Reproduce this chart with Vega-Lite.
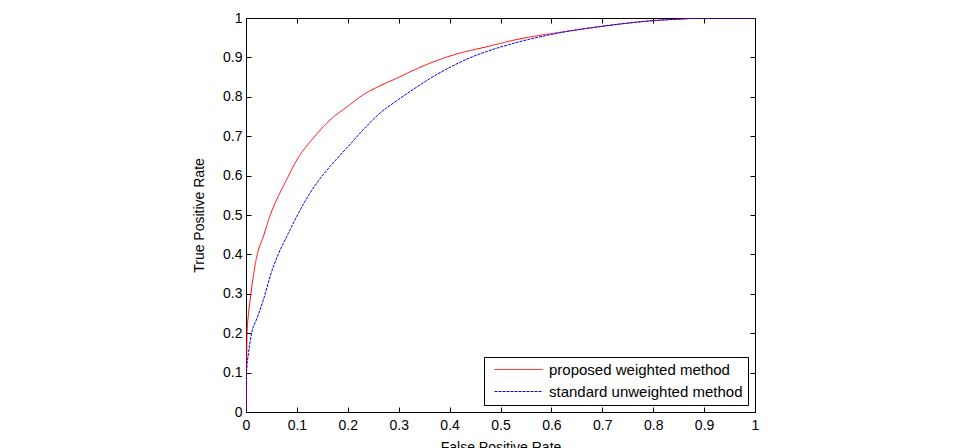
{
  "$schema": "https://vega.github.io/schema/vega-lite/v6.json",
  "width": 509,
  "height": 394,
  "autosize": {"type": "none"},
  "padding": {"left": 246, "top": 18, "right": 204, "bottom": 36},
  "background": "white",
  "config": {
    "font": "Liberation Sans",
    "view": {"stroke": "black", "strokeWidth": 1},
    "axis": {
      "grid": false,
      "domainColor": "black",
      "tickColor": "black",
      "labelColor": "black",
      "titleColor": "black",
      "labelFont": "Liberation Sans",
      "titleFont": "Liberation Sans",
      "labelFontSize": 14,
      "titleFontSize": 14,
      "titleFontWeight": "normal",
      "tickSize": -5,
      "tickWidth": 1,
      "domainWidth": 1
    }
  },
  "datasets": {
    "roc": [
      {"fpr": 0, "tpr": 0, "method": "proposed weighted method"},
      {"fpr": 0.001, "tpr": 0.1, "method": "proposed weighted method"},
      {"fpr": 0.002, "tpr": 0.2, "method": "proposed weighted method"},
      {"fpr": 0.005, "tpr": 0.25, "method": "proposed weighted method"},
      {"fpr": 0.008, "tpr": 0.284, "method": "proposed weighted method"},
      {"fpr": 0.015, "tpr": 0.35, "method": "proposed weighted method"},
      {"fpr": 0.021, "tpr": 0.394, "method": "proposed weighted method"},
      {"fpr": 0.034, "tpr": 0.445, "method": "proposed weighted method"},
      {"fpr": 0.05, "tpr": 0.508, "method": "proposed weighted method"},
      {"fpr": 0.06, "tpr": 0.538, "method": "proposed weighted method"},
      {"fpr": 0.08, "tpr": 0.59, "method": "proposed weighted method"},
      {"fpr": 0.1, "tpr": 0.64, "method": "proposed weighted method"},
      {"fpr": 0.13, "tpr": 0.692, "method": "proposed weighted method"},
      {"fpr": 0.165, "tpr": 0.741, "method": "proposed weighted method"},
      {"fpr": 0.2, "tpr": 0.776, "method": "proposed weighted method"},
      {"fpr": 0.23, "tpr": 0.805, "method": "proposed weighted method"},
      {"fpr": 0.26, "tpr": 0.826, "method": "proposed weighted method"},
      {"fpr": 0.296, "tpr": 0.847, "method": "proposed weighted method"},
      {"fpr": 0.33, "tpr": 0.868, "method": "proposed weighted method"},
      {"fpr": 0.361, "tpr": 0.885, "method": "proposed weighted method"},
      {"fpr": 0.407, "tpr": 0.906, "method": "proposed weighted method"},
      {"fpr": 0.473, "tpr": 0.927, "method": "proposed weighted method"},
      {"fpr": 0.538, "tpr": 0.947, "method": "proposed weighted method"},
      {"fpr": 0.603, "tpr": 0.961, "method": "proposed weighted method"},
      {"fpr": 0.65, "tpr": 0.97, "method": "proposed weighted method"},
      {"fpr": 0.695, "tpr": 0.978, "method": "proposed weighted method"},
      {"fpr": 0.75, "tpr": 0.987, "method": "proposed weighted method"},
      {"fpr": 0.807, "tpr": 0.994, "method": "proposed weighted method"},
      {"fpr": 0.85, "tpr": 0.997, "method": "proposed weighted method"},
      {"fpr": 0.9, "tpr": 1, "method": "proposed weighted method"},
      {"fpr": 1, "tpr": 1, "method": "proposed weighted method"},
      {"fpr": 0, "tpr": 0, "method": "standard unweighted method"},
      {"fpr": 0.001, "tpr": 0.1, "method": "standard unweighted method"},
      {"fpr": 0.005, "tpr": 0.15, "method": "standard unweighted method"},
      {"fpr": 0.011, "tpr": 0.2, "method": "standard unweighted method"},
      {"fpr": 0.021, "tpr": 0.236, "method": "standard unweighted method"},
      {"fpr": 0.034, "tpr": 0.284, "method": "standard unweighted method"},
      {"fpr": 0.05, "tpr": 0.355, "method": "standard unweighted method"},
      {"fpr": 0.065, "tpr": 0.405, "method": "standard unweighted method"},
      {"fpr": 0.083, "tpr": 0.453, "method": "standard unweighted method"},
      {"fpr": 0.1, "tpr": 0.497, "method": "standard unweighted method"},
      {"fpr": 0.116, "tpr": 0.535, "method": "standard unweighted method"},
      {"fpr": 0.14, "tpr": 0.583, "method": "standard unweighted method"},
      {"fpr": 0.165, "tpr": 0.623, "method": "standard unweighted method"},
      {"fpr": 0.2, "tpr": 0.673, "method": "standard unweighted method"},
      {"fpr": 0.23, "tpr": 0.716, "method": "standard unweighted method"},
      {"fpr": 0.26, "tpr": 0.755, "method": "standard unweighted method"},
      {"fpr": 0.296, "tpr": 0.79, "method": "standard unweighted method"},
      {"fpr": 0.33, "tpr": 0.82, "method": "standard unweighted method"},
      {"fpr": 0.361, "tpr": 0.846, "method": "standard unweighted method"},
      {"fpr": 0.407, "tpr": 0.879, "method": "standard unweighted method"},
      {"fpr": 0.44, "tpr": 0.899, "method": "standard unweighted method"},
      {"fpr": 0.473, "tpr": 0.915, "method": "standard unweighted method"},
      {"fpr": 0.538, "tpr": 0.94, "method": "standard unweighted method"},
      {"fpr": 0.603, "tpr": 0.959, "method": "standard unweighted method"},
      {"fpr": 0.65, "tpr": 0.97, "method": "standard unweighted method"},
      {"fpr": 0.7, "tpr": 0.979, "method": "standard unweighted method"},
      {"fpr": 0.75, "tpr": 0.987, "method": "standard unweighted method"},
      {"fpr": 0.807, "tpr": 0.994, "method": "standard unweighted method"},
      {"fpr": 0.85, "tpr": 0.997, "method": "standard unweighted method"},
      {"fpr": 0.9, "tpr": 1, "method": "standard unweighted method"},
      {"fpr": 1, "tpr": 1, "method": "standard unweighted method"}
    ]
  },
  "data": {"name": "roc"},
  "resolve": {"axis": {"x": "independent", "y": "independent"}},
  "layer": [
    {
      "mark": {"type": "line", "strokeWidth": 1, "clip": true, "interpolate": "monotone"},
      "encoding": {
        "x": {
          "field": "fpr", "type": "quantitative",
          "scale": {"domain": [0, 1], "nice": false, "zero": false},
          "axis": {
            "title": "False Positive Rate",
            "values": [0, 0.1, 0.2, 0.3, 0.4, 0.5, 0.6, 0.7, 0.8, 0.9, 1],
            "format": "~g",
            "labelPadding": 11,
            "titlePadding": 8,
            "labelFlush": false,
            "labelOverlap": false
          }
        },
        "y": {
          "field": "tpr", "type": "quantitative",
          "scale": {"domain": [0, 1], "nice": false, "zero": false},
          "axis": {
            "title": "True Positive Rate",
            "values": [0, 0.1, 0.2, 0.3, 0.4, 0.5, 0.6, 0.7, 0.8, 0.9, 1],
            "format": "~g",
            "labelPadding": 9,
            "titlePadding": 16,
            "labelFlush": false,
            "labelOverlap": false
          }
        },
        "order": {"field": "fpr", "type": "quantitative"},
        "color": {
          "field": "method", "type": "nominal",
          "scale": {"domain": ["proposed weighted method", "standard unweighted method"], "range": ["#ff0000", "#0000ff"]},
          "legend": {
            "title": null,
            "orient": "bottom-right",
            "offset": 7,
            "symbolType": "M-1,0H7",
            "symbolSize": 144,
            "symbolStrokeWidth": 1,
            "symbolOffset": 4,
            "labelFont": "Liberation Sans",
            "labelFontSize": 15,
            "labelColor": "black",
            "labelOffset": 41,
            "rowPadding": 6,
            "padding": 5,
            "strokeColor": "black",
            "fillColor": "white",
            "labelLimit": 400
          }
        },
        "strokeDash": {
          "field": "method", "type": "nominal",
          "scale": {"domain": ["proposed weighted method", "standard unweighted method"], "range": [[1, 0], [3, 1]]},
          "legend": {
            "title": null,
            "orient": "bottom-right",
            "offset": 7,
            "symbolType": "M-1,0H7",
            "symbolSize": 144,
            "symbolStrokeWidth": 1,
            "symbolOffset": 4,
            "labelFont": "Liberation Sans",
            "labelFontSize": 15,
            "labelColor": "black",
            "labelOffset": 41,
            "rowPadding": 6,
            "padding": 5,
            "strokeColor": "black",
            "fillColor": "white",
            "labelLimit": 400
          }
        }
      }
    },
    {
      "mark": {"type": "line", "opacity": 0},
      "encoding": {
        "x": {
          "field": "fpr", "type": "quantitative",
          "axis": {"orient": "top", "title": null, "labels": false, "domain": false,
                   "values": [0, 0.1, 0.2, 0.3, 0.4, 0.5, 0.6, 0.7, 0.8, 0.9, 1]}
        },
        "y": {
          "field": "tpr", "type": "quantitative",
          "axis": {"orient": "right", "title": null, "labels": false, "domain": false,
                   "values": [0, 0.1, 0.2, 0.3, 0.4, 0.5, 0.6, 0.7, 0.8, 0.9, 1]}
        }
      }
    }
  ]
}
